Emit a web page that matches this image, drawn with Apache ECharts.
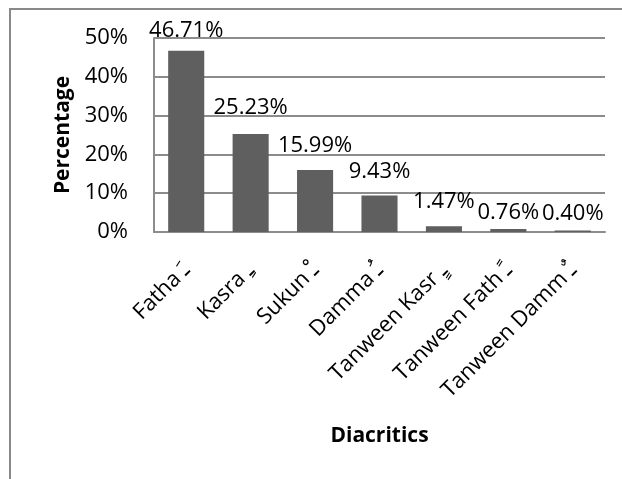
<!DOCTYPE html>
<html>
<head>
<meta charset="utf-8">
<script src="https://cdn.jsdelivr.net/npm/echarts@6/dist/echarts.min.js"></script>
<style>
  html, body { margin: 0; padding: 0; background: #fff; }
  #frame { position: absolute; left: 9px; top: 8px; width: 640px; height: 500px;
           border-left: 2px solid #898989; border-top: 2px solid #898989; box-sizing: border-box; }
  #chart { position: absolute; left: 0; top: 0; width: 622px; height: 479px; }
</style>
</head>
<body>
<div id="frame"></div>
<div id="chart"></div>
<script>
// Share of each Arabic diacritic (percent of all diacritics)
const categories = [
  'Fatha \u0640\u064E',
  'Kasra \u0640\u0650',
  'Sukun \u0640\u0652',
  'Damma \u0640\u064F',
  'Tanween Kasr \u0640\u064D',
  'Tanween Fath \u0640\u064B',
  'Tanween Damm \u0640\u064C'
];
const percentages = [46.71, 25.23, 15.99, 9.43, 1.47, 0.76, 0.40];
const yTicks = [0, 10, 20, 30, 40, 50];

const font = '"Open Sans", "DejaVu Sans", sans-serif';
const labelDistance = [9, 15, 13, 13, 14, 5, 6];

const chart = echarts.init(document.getElementById('chart'), null, { renderer: 'canvas' });
chart.setOption({
  animation: false,
  grid: { left: 154, right: 17, top: 38, bottom: 247, containLabel: false },
  xAxis: {
    type: 'category',
    data: categories,
    name: 'Diacritics',
    nameLocation: 'middle',
    nameGap: 194,
    nameTextStyle: { fontFamily: font, fontWeight: 'bold', fontSize: 21, color: '#000' },
    axisLine: { show: true, lineStyle: { color: '#8c8c8c', width: 2 } },
    axisTick: { show: false },
    axisLabel: {
      rotate: 45, margin: 35, interval: 0,
      fontFamily: font, fontSize: 22, color: '#000'
    }
  },
  yAxis: {
    type: 'value',
    min: yTicks[0],
    max: yTicks[yTicks.length - 1],
    interval: yTicks[1] - yTicks[0],
    name: 'Percentage',
    nameLocation: 'middle',
    nameGap: 80,
    nameRotate: 90,
    nameTextStyle: { fontFamily: font, fontWeight: 'bold', fontSize: 21, color: '#000' },
    axisLine: { show: true, lineStyle: { color: '#8c8c8c', width: 2 } },
    axisTick: { show: false },
    axisLabel: {
      margin: 26, fontFamily: font, fontSize: 22, color: '#000',
      formatter: v => v + '%'
    },
    splitLine: { show: true, lineStyle: { color: '#8c8c8c', width: 2 } }
  },
  series: [{
    type: 'bar',
    barWidth: '56%',
    data: percentages.map((v, i) => ({
      value: v,
      label: { distance: labelDistance[i] }
    })),
    itemStyle: { color: '#5f5f5f' },
    label: {
      show: true,
      position: 'top',
      fontFamily: font,
      fontSize: 22,
      color: '#000',
      formatter: p => p.value.toFixed(2) + '%'
    }
  }]
});
</script>
</body>
</html>
